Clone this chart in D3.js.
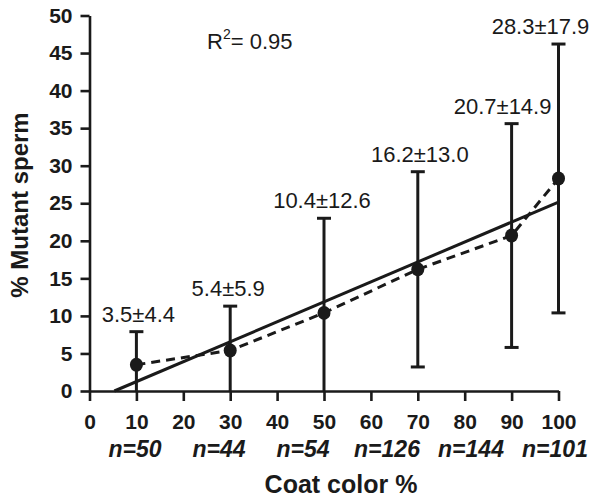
<!DOCTYPE html>
<html>
<head>
<meta charset="utf-8">
<script src="https://cdn.jsdelivr.net/npm/d3@7"></script>
<style>
  html, body { margin: 0; padding: 0; background: #fff; }
  svg { display: block; }
  text { font-family: "Liberation Sans", Arial, Helvetica, sans-serif; fill: #1a1a1a; }
</style>
</head>
<body>
<svg id="chart" width="600" height="501"></svg>
<script>
// ---- data ----
const coatColor = [10, 30, 50, 70, 90, 100];
const mutantMean = [3.5, 5.4, 10.4, 16.2, 20.7, 28.3];
const mutantSD = [4.4, 5.9, 12.6, 13.0, 14.9, 17.9];
const sampleN = ["n=50", "n=44", "n=54", "n=126", "n=144", "n=101"];
const xTicks = [0, 10, 20, 30, 40, 50, 60, 70, 80, 90, 100];
const yTicks = [0, 5, 10, 15, 20, 25, 30, 35, 40, 45, 50];
const fitLine = [[5.3, 0], [100, 25.15]];
const rSquared = "0.95";

// ---- layout ----
const svg = d3.select("#chart");
const x = d3.scaleLinear().domain([0, 100]).range([89.5, 558.5]);
const y = d3.scaleLinear().domain([0, 50]).range([391, 15.5]);
const nPos = d3.scalePoint().domain(sampleN).range([135, 555]);
const ink = "#1a1a1a";
const labelShift = [2, -2, -2, 2, -9, -18];
const FONT = '"Liberation Sans", Arial, Helvetica, sans-serif';

// axes
const xAxis = svg.append("g")
  .attr("transform", `translate(0,${y(0)})`)
  .call(d3.axisBottom(x).tickValues(xTicks).tickSize(10).tickPadding(10).tickSizeOuter(0));
const yAxis = svg.append("g")
  .attr("transform", `translate(${x(0)},0)`)
  .call(d3.axisLeft(y).tickValues(yTicks).tickSize(9).tickPadding(8).tickSizeOuter(0));

[xAxis, yAxis].forEach(g => {
  g.select(".domain").attr("stroke", ink).attr("stroke-width", 2.6);
  g.selectAll(".tick line").attr("stroke", ink).attr("stroke-width", 2.6);
  g.selectAll(".tick text")
    .attr("fill", ink)
    .style("font-family", FONT)
    .style("font-weight", "bold")
    .style("font-size", "21px");
});
xAxis.selectAll(".tick text").attr("y", 38).attr("dy", 0);

// regression line
svg.append("line")
  .attr("x1", x(fitLine[0][0])).attr("y1", y(fitLine[0][1]))
  .attr("x2", x(fitLine[1][0])).attr("y2", y(fitLine[1][1]))
  .attr("stroke", ink).attr("stroke-width", 3);

// dashed connecting line
const pts = coatColor.map((c, i) => ({ c, m: mutantMean[i], sd: mutantSD[i], n: sampleN[i], i }));
svg.append("path")
  .datum(pts)
  .attr("fill", "none")
  .attr("stroke", ink)
  .attr("stroke-width", 3)
  .attr("stroke-dasharray", "9,6")
  .attr("d", d3.line().x(d => x(d.c)).y(d => y(d.m)));

// error bars
const eb = svg.append("g").selectAll("g").data(pts).join("g");
eb.append("line")
  .attr("x1", d => x(d.c)).attr("x2", d => x(d.c))
  .attr("y1", d => y(Math.max(0, d.m - d.sd)))
  .attr("y2", d => y(d.m + d.sd))
  .attr("stroke", ink).attr("stroke-width", 3);
eb.append("line")
  .attr("x1", d => x(d.c) - 7).attr("x2", d => x(d.c) + 7)
  .attr("y1", d => y(d.m + d.sd)).attr("y2", d => y(d.m + d.sd))
  .attr("stroke", ink).attr("stroke-width", 3);
eb.filter(d => d.m - d.sd > 0).append("line")
  .attr("x1", d => x(d.c) - 7).attr("x2", d => x(d.c) + 7)
  .attr("y1", d => y(d.m - d.sd)).attr("y2", d => y(d.m - d.sd))
  .attr("stroke", ink).attr("stroke-width", 3);

// points
svg.append("g").selectAll("ellipse").data(pts).join("ellipse")
  .attr("cx", d => x(d.c)).attr("cy", d => y(d.m))
  .attr("rx", 6.5).attr("ry", 7)
  .attr("fill", ink);

// value labels
svg.append("g").selectAll("text").data(pts).join("text")
  .attr("x", d => x(d.c) + labelShift[d.i])
  .attr("y", d => y(d.m + d.sd) - 10)
  .attr("text-anchor", "middle")
  .style("font-size", "22px")
  .text(d => `${d.m.toFixed(1)}±${d.sd.toFixed(1)}`);

// n labels
svg.append("g").selectAll("text").data(pts).join("text")
  .attr("x", d => nPos(d.n))
  .attr("y", 457)
  .attr("text-anchor", "middle")
  .style("font-size", "23px")
  .style("font-weight", "bold")
  .style("font-style", "italic")
  .text(d => d.n);

// R^2
const r2 = svg.append("text").attr("x", 207).attr("y", 49).style("font-size", "22px");
r2.append("tspan").text("R");
r2.append("tspan").attr("dy", -10).style("font-size", "14px").text("2");
r2.append("tspan").attr("dy", 10).text("= " + rSquared);

// axis titles
svg.append("text")
  .attr("x", 341).attr("y", 493)
  .attr("text-anchor", "middle")
  .style("font-size", "25px").style("font-weight", "bold")
  .text("Coat color %");
svg.append("text")
  .attr("transform", `translate(28,205) rotate(-90)`)
  .attr("text-anchor", "middle")
  .style("font-size", "24px").style("font-weight", "bold")
  .text("% Mutant sperm");
</script>
</body>
</html>
